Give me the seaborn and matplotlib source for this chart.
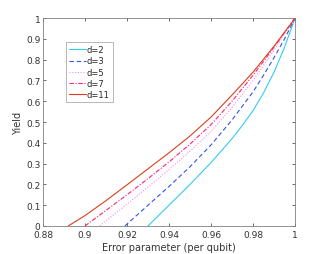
import numpy as np
import pandas as pd
import matplotlib
matplotlib.use("Agg")
import matplotlib.pyplot as plt
import seaborn as sns

labels = ["d=2", "d=3", "d=5", "d=7", "d=11"]
x_d2 = [0.930, 0.94, 0.95, 0.96, 0.97, 0.975, 0.98, 0.985, 0.99, 0.995, 1.0]
y_d2 = [0.0, 0.10, 0.20, 0.305, 0.42, 0.485, 0.555, 0.64, 0.74, 0.86, 1.0]
x_d3 = [0.919, 0.93, 0.94, 0.95, 0.96, 0.97, 0.98, 0.985, 0.99, 0.995, 1.0]
y_d3 = [0.0, 0.10, 0.19, 0.285, 0.39, 0.51, 0.645, 0.725, 0.81, 0.9, 1.0]
x_d5 = [0.907, 0.91, 0.92, 0.93, 0.94, 0.95, 0.96, 0.97, 0.98, 0.99, 1.0]
y_d5 = [0.0, 0.025, 0.105, 0.187, 0.272, 0.36, 0.455, 0.57, 0.70, 0.845, 1.0]
x_d7 = [0.900, 0.91, 0.92, 0.93, 0.94, 0.95, 0.96, 0.97, 0.98, 0.99, 1.0]
y_d7 = [0.0, 0.075, 0.15, 0.228, 0.308, 0.394, 0.488, 0.60, 0.725, 0.86, 1.0]
x_d11 = [0.892, 0.90, 0.91, 0.92, 0.93, 0.94, 0.95, 0.96, 0.97, 0.98, 0.99, 1.0]
y_d11 = [0.0, 0.05, 0.122, 0.198, 0.275, 0.352, 0.433, 0.524, 0.63, 0.74, 0.865, 1.0]

xs = [x_d2, x_d3, x_d5, x_d7, x_d11]
ys = [y_d2, y_d3, y_d5, y_d7, y_d11]
colors = ["#33CCF0", "#3355EE", "#FF88EE", "#FF2277", "#D9401A"]
styles = ["-", (0, (4, 2.5)), (0, (1, 1.5)), (0, (4, 1.5, 1, 1.5)), "-"]

xticks = [0.88, 0.9, 0.92, 0.94, 0.96, 0.98, 1]
xticklabels = ["0.88", "0.9", "0.92", "0.94", "0.96", "0.98", "1"]
yticks = [0, 0.1, 0.2, 0.3, 0.4, 0.5, 0.6, 0.7, 0.8, 0.9, 1]
yticklabels = ["0", "0.1", "0.2", "0.3", "0.4", "0.5", "0.6", "0.7", "0.8", "0.9", "1"]

sns.set_theme(style="white")
plt.rcParams['font.family'] = ['DejaVu Sans']

fig = plt.figure(figsize=(3.26, 2.55), dpi=100)
ax = fig.add_axes([0.132, 0.11, 0.773, 0.815])

for lab, x, y, c, ls in zip(labels, xs, ys, colors, styles):
    df = pd.DataFrame({"x": x, "y": y})
    sns.lineplot(data=df, x="x", y="y", ax=ax, color=c, linestyle=ls,
                 linewidth=0.8, label=lab, sort=True)

ax.set_xlim(0.88, 1.0)
ax.set_ylim(0, 1)
ax.set_xticks(xticks)
ax.set_xticklabels(xticklabels)
ax.set_yticks(yticks)
ax.set_yticklabels(yticklabels)
ax.tick_params(direction="in", length=2.5, width=0.5, labelsize=6.5,
               colors="#333333", pad=2, top=True, right=True,
               bottom=True, left=True, labeltop=False, labelright=False)
ax.tick_params(axis="x", pad=3)
for s in ax.spines.values():
    s.set_color("#808080")
    s.set_linewidth(0.6)
ax.set_xlabel("Error parameter (per qubit)", fontsize=7, color="#333333", labelpad=2)
ax.set_ylabel("Yield", fontsize=7, color="#333333", labelpad=2)

leg = ax.legend(loc="upper left", bbox_to_anchor=(0.09, 0.885), fontsize=6,
                frameon=True, fancybox=False, borderpad=0.4, handlelength=2.0,
                handletextpad=0.1, labelspacing=0.25, borderaxespad=0)
leg.get_frame().set_edgecolor("#999999")
leg.get_frame().set_linewidth(0.6)

fig.savefig("out.png", dpi=100)
